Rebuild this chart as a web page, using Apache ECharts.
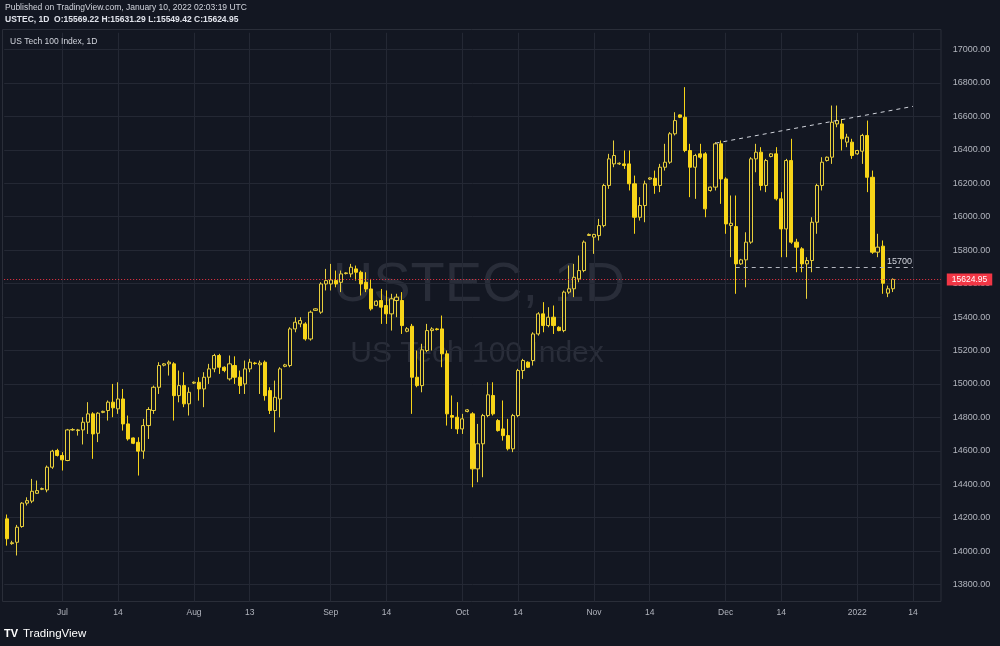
<!DOCTYPE html>
<html><head><meta charset="utf-8">
<script src="https://cdn.jsdelivr.net/npm/echarts@6/dist/echarts.min.js"></script>
<style>html,body{margin:0;padding:0;background:#131722;}#c{width:1000px;height:646px;}</style>
</head><body><div id="c"></div>
<script>
// ---- data ----
const dates = [
'2021-06-18','2021-06-20','2021-06-21','2021-06-22','2021-06-23','2021-06-24','2021-06-25',
'2021-06-27','2021-06-28','2021-06-29','2021-06-30','2021-07-01','2021-07-02',
'2021-07-04','2021-07-05','2021-07-06','2021-07-07','2021-07-08','2021-07-09',
'2021-07-11','2021-07-12','2021-07-13','2021-07-14','2021-07-15','2021-07-16',
'2021-07-18','2021-07-19','2021-07-20','2021-07-21','2021-07-22','2021-07-23',
'2021-07-25','2021-07-26','2021-07-27','2021-07-28','2021-07-29','2021-07-30',
'2021-08-01','2021-08-02','2021-08-03','2021-08-04','2021-08-05','2021-08-06',
'2021-08-08','2021-08-09','2021-08-10','2021-08-11','2021-08-12','2021-08-13',
'2021-08-15','2021-08-16','2021-08-17','2021-08-18','2021-08-19','2021-08-20',
'2021-08-22','2021-08-23','2021-08-24','2021-08-25','2021-08-26','2021-08-27',
'2021-08-29','2021-08-30','2021-08-31','2021-09-01','2021-09-02','2021-09-03',
'2021-09-05','2021-09-06','2021-09-07','2021-09-08','2021-09-09','2021-09-10',
'2021-09-12','2021-09-13','2021-09-14','2021-09-15','2021-09-16','2021-09-17',
'2021-09-19','2021-09-20','2021-09-21','2021-09-22','2021-09-23','2021-09-24',
'2021-09-26','2021-09-27','2021-09-28','2021-09-29','2021-09-30','2021-10-01',
'2021-10-03','2021-10-04','2021-10-05','2021-10-06','2021-10-07','2021-10-08',
'2021-10-10','2021-10-11','2021-10-12','2021-10-13','2021-10-14','2021-10-15',
'2021-10-17','2021-10-18','2021-10-19','2021-10-20','2021-10-21','2021-10-22',
'2021-10-24','2021-10-25','2021-10-26','2021-10-27','2021-10-28','2021-10-29',
'2021-10-31','2021-11-01','2021-11-02','2021-11-03','2021-11-04','2021-11-05',
'2021-11-07','2021-11-08','2021-11-09','2021-11-10','2021-11-11','2021-11-12',
'2021-11-14','2021-11-15','2021-11-16','2021-11-17','2021-11-18','2021-11-19',
'2021-11-21','2021-11-22','2021-11-23','2021-11-24','2021-11-25','2021-11-26',
'2021-11-28','2021-11-29','2021-11-30','2021-12-01','2021-12-02','2021-12-03',
'2021-12-05','2021-12-06','2021-12-07','2021-12-08','2021-12-09','2021-12-10',
'2021-12-12','2021-12-13','2021-12-14','2021-12-15','2021-12-16','2021-12-17',
'2021-12-19','2021-12-20','2021-12-21','2021-12-22','2021-12-23',
'2021-12-26','2021-12-27','2021-12-28','2021-12-29','2021-12-30','2021-12-31',
'2022-01-02','2022-01-03','2022-01-04','2022-01-05','2022-01-06','2022-01-07',
'2022-01-09','2022-01-10'];
const futureDates = ['2022-01-11','2022-01-12','2022-01-13','2022-01-14','2022-01-16','2022-01-17','2022-01-18','2022-01-19','2022-01-20'];

// [open, high, low, close]
const ohlc = [
[14193,14219,14033,14074],[14045,14062,14038,14050],[14053,14157,13974,14143],[14147,14293,14140,14287],[14287,14322,14273,14302],[14299,14432,14287,14358],[14346,14422,14342,14362],
[14370,14380,14365,14374],[14366,14512,14352,14502],[14502,14606,14492,14598],[14602,14612,14566,14572],[14572,14592,14482,14546],[14542,14731,14538,14725],
[14725,14735,14720,14727],[14721,14731,14691,14725],[14725,14801,14638,14771],[14771,14891,14701,14821],[14821,14831,14552,14701],[14705,14831,14652,14825],
[14830,14840,14825,14836],[14841,14901,14781,14891],[14891,15000,14801,14857],[14851,15010,14821,14910],[14910,14970,14721,14761],[14761,14811,14661,14671],
[14677,14680,14640,14645],[14651,14681,14452,14598],[14598,14791,14552,14751],[14751,14861,14671,14847],[14841,14990,14821,14980],[14980,15130,14940,15110],
[15112,15125,15105,15120],[15120,15140,15050,15130],[15120,15130,14781,14930],[14930,15080,14890,14990],[14990,15070,14861,14881],[14881,14980,14811,14950],
[15005,15015,15000,15010],[15010,15040,14900,14970],[14970,15070,14861,15040],[15040,15120,15000,15090],[15090,15180,15070,15170],[15170,15180,15060,15100],
[15100,15105,15070,15080],[15030,15170,15020,15120],[15110,15165,15000,15040],[15040,15080,14940,14990],[15000,15140,14940,15090],[15090,15150,15070,15130],
[15125,15132,15115,15122],[15115,15140,14940,15125],[15130,15140,14900,14930],[14960,14980,14820,14841],[14841,15020,14711,14920],[14910,15100,14800,15090],
[15105,15120,15100,15114],[15110,15339,15100,15329],[15329,15399,15309,15369],[15359,15399,15339,15379],[15359,15369,15259,15269],[15269,15439,15259,15429],
[15440,15452,15436,15449],[15429,15608,15419,15598],[15598,15688,15559,15618],[15598,15718,15559,15622],[15618,15678,15578,15598],[15608,15678,15549,15658],
[15660,15668,15655,15664],[15658,15718,15638,15698],[15688,15708,15618,15668],[15668,15678,15529,15598],[15608,15668,15549,15568],[15568,15628,15439,15449],
[15470,15500,15465,15495],[15499,15568,15359,15459],[15469,15559,15359,15419],[15419,15539,15319,15509],[15499,15539,15399,15519],[15499,15549,15299,15349],
[15315,15340,15309,15330],[15345,15359,14821,15040],[15040,15200,14980,14990],[14990,15240,14950,15204],[15200,15359,15190,15319],[15319,15339,15200,15329],
[15329,15335,15320,15325],[15329,15409,15100,15180],[15180,15200,14751,14821],[14811,14931,14731,14801],[14801,14891,14701,14731],[14731,14821,14701,14791],
[14835,14850,14830,14845],[14821,14831,14382,14492],[14492,14761,14412,14642],[14642,14821,14442,14811],[14811,15010,14801,14935],[14931,15010,14811,14821],
[14781,14790,14715,14721],[14731,14901,14661,14691],[14691,14791,14602,14612],[14612,14821,14592,14811],[14811,15090,14801,15080],[15080,15150,15030,15140],
[15130,15135,15095,15100],[15140,15309,15110,15299],[15299,15429,15289,15419],[15419,15489,15309,15349],[15349,15459,15339,15399],[15399,15469,15299,15349],
[15339,15345,15315,15319],[15319,15558,15309,15549],[15549,15708,15539,15569],[15569,15718,15519,15638],[15628,15768,15608,15678],[15678,15858,15668,15848],
[15888,15900,15885,15894],[15878,15898,15778,15894],[15887,15987,15858,15947],[15947,16197,15937,16187],[16187,16376,16167,16346],[16316,16456,16296,16366],
[16316,16325,16310,16320],[16316,16396,16286,16306],[16316,16396,16157,16197],[16197,16246,15898,15997],[15997,16117,15977,16067],[16067,16216,15967,16197],
[16225,16236,16220,16232],[16230,16276,16137,16187],[16187,16316,16147,16296],[16296,16436,16276,16326],[16326,16506,16316,16496],[16496,16625,16486,16575],
[16609,16612,16590,16595],[16595,16775,16386,16396],[16396,16436,16117,16296],[16296,16376,16107,16366],[16376,16436,16346,16356],[16376,16386,15997,16047],
[16157,16180,16150,16177],[16177,16446,16157,16436],[16436,16456,16077,16226],[16226,16236,15898,15957],[15947,16127,15758,15961],[15941,16127,15539,15718],
[15718,15748,15712,15742],[15742,15907,15578,15848],[15848,16356,15838,16346],[16346,16436,16266,16386],[16386,16416,16157,16187],[16187,16346,16147,16336],
[16360,16380,16355,16376],[16376,16416,16097,16107],[16107,16147,15758,15927],[15927,16346,15758,16336],[16336,16466,15838,15848],[15848,15868,15668,15818],
[15808,15818,15668,15718],[15718,15758,15509,15738],[15738,15997,15668,15967],[15967,16197,15898,16187],[16187,16356,16157,16326],
[16336,16360,16330,16356],[16356,16665,16316,16565],[16555,16665,16535,16575],[16555,16585,16396,16466],[16446,16496,16416,16476],[16446,16466,16346,16366],
[16376,16400,16370,16396],[16392,16496,16316,16486],[16486,16575,16147,16236],[16236,16276,15778,15788],[15788,15898,15758,15818],[15824,15858,15539,15602],
[15543,15588,15519,15569],[15569.22,15631.29,15549.42,15624.95]];

const priceTicks = [13800,14000,14200,14400,14600,14800,15000,15200,15400,15600,15800,16000,16200,16400,16600,16800,17000];
const timeLabels = [['2021-07-01','Jul'],['2021-07-14','14'],['2021-08-01','Aug'],['2021-08-13','13'],['2021-09-01','Sep'],['2021-09-14','14'],
  ['2021-10-01','Oct'],['2021-10-14','14'],['2021-11-01','Nov'],['2021-11-14','14'],['2021-12-01','Dec'],['2021-12-14','14'],['2022-01-02','2022'],['2022-01-14','14']];
const lastPrice = 15624.95;
const level15700 = [['2021-12-03', 15700], ['2022-01-14', 15700]];
const trendLine = [['2021-11-29', 16440], ['2022-01-14', 16660]];

// ---- style ----
const BG = '#131722';
const GRID = '#242834';
const TXT = '#b2b5be';
const YEL = '#f7d418';
const YEL_UP = '#e8cf3c';
const FONT = 'Liberation Sans, Arial, sans-serif';

const cats = dates.concat(futureDates);
const candleData = ohlc.map(r => [r[0], r[3], r[2], r[1]]);
const labelMap = {};
timeLabels.forEach(t => { labelMap[t[0]] = t[1]; });

const chart = echarts.init(document.getElementById('c'), null, {renderer: 'canvas', width: 1000, height: 646});
chart.setOption({
  backgroundColor: BG,
  animation: false,
  grid: {left: 4.17, right: 59.2, top: 32.8, bottom: 44.7},
  xAxis: {
    type: 'category', data: cats, boundaryGap: true,
    axisLine: {show: false}, axisTick: {show: false}, splitLine: {show: false},
    axisLabel: {interval: (i, v) => v in labelMap, formatter: v => labelMap[v] || '',
      color: TXT, fontSize: 8.5, fontFamily: FONT, margin: 7}
  },
  yAxis: {
    type: 'value', position: 'right', min: 13700, max: 17100, interval: 100,
    axisLine: {show: false}, axisTick: {show: false}, splitLine: {show: false},
    axisLabel: {formatter: v => (Math.round(v) % 200 === 0 ? v.toFixed(2) : ''),
      color: TXT, fontSize: 9, fontFamily: FONT, margin: 12}
  },
  graphic: [
    {type: 'rect', silent: true, z: -1, shape: {x: 2.5, y: 29.5, width: 938.5, height: 572}, style: {fill: 'none', stroke: '#2a2e39', lineWidth: 1}},
    {type: 'text', silent: true, z: 0, x: 479, y: 286, style: {text: 'USTEC, 1D', fill: '#292d39', font: '56px ' + FONT, textAlign: 'center', textVerticalAlign: 'middle'}},
    {type: 'text', silent: true, z: 0, x: 477, y: 354, style: {text: 'US Tech 100 Index', fill: '#292d39', font: '30px ' + FONT, textAlign: 'center', textVerticalAlign: 'middle'}},
    {type: 'text', silent: true, z: 10, x: 5, y: 7.5, style: {text: 'Published on TradingView.com, January 10, 2022 02:03:19 UTC', fill: '#d1d4dc', font: '8.5px ' + FONT, textVerticalAlign: 'middle'}},
    {type: 'text', silent: true, z: 10, x: 5, y: 19.5, style: {text: 'USTEC, 1D  O:15569.22 H:15631.29 L:15549.42 C:15624.95', fill: '#e0e3eb', font: 'bold 8.5px ' + FONT, textVerticalAlign: 'middle'}},
    {type: 'text', silent: true, z: 10, x: 10, y: 41.5, style: {text: 'US Tech 100 Index, 1D', fill: '#d1d4dc', font: '8.5px ' + FONT, textVerticalAlign: 'middle'}},
    {type: 'text', silent: true, z: 10, x: 4, y: 634, style: {text: 'TV', fill: '#ffffff', font: 'bold 11px ' + FONT, textVerticalAlign: 'middle'}},
    {type: 'text', silent: true, z: 10, x: 23, y: 634, style: {text: 'TradingView', fill: '#ffffff', font: '11.5px ' + FONT, textVerticalAlign: 'middle'}}
  ],
  series: [
    {
      type: 'line', data: [], silent: true,
      markLine: {
        silent: true, z: 1, symbol: ['none', 'none'], label: {show: false}, animation: false,
        lineStyle: {color: GRID, width: 1, type: 'solid'},
        data: priceTicks.map(v => ({yAxis: v})).concat(timeLabels.map(t => ({xAxis: t[0]})))
      }
    },
    {
      type: 'candlestick', data: candleData, barWidth: 3.6, z: 3,
      itemStyle: {color: BG, color0: YEL, borderColor: YEL_UP, borderColor0: YEL, borderWidth: 1},
      markLine: {
        silent: true, z: 6, symbol: ['none', 'none'], animation: false,
        data: [
          [{coord: trendLine[0], lineStyle: {color: '#d1d4dc', type: [4, 4], width: 1}, label: {show: false}}, {coord: trendLine[1]}],
          [{coord: level15700[0], lineStyle: {color: '#b2b5be', type: [4, 4], width: 1},
            label: {show: true, position: 'insideEndTop', formatter: '15700', color: '#d1d4dc', fontSize: 9, fontFamily: FONT, distance: 1}},
           {coord: level15700[1]}],
          {yAxis: lastPrice, lineStyle: {color: '#f23645', type: [1, 2], width: 1},
            label: {show: true, position: 'end', formatter: lastPrice.toFixed(2), color: '#ffffff', backgroundColor: '#f23645',
              fontSize: 8.5, fontFamily: FONT, padding: [2, 5, 1, 5], distance: 6}}
        ]
      }
    }
  ]
});
</script></body></html>
